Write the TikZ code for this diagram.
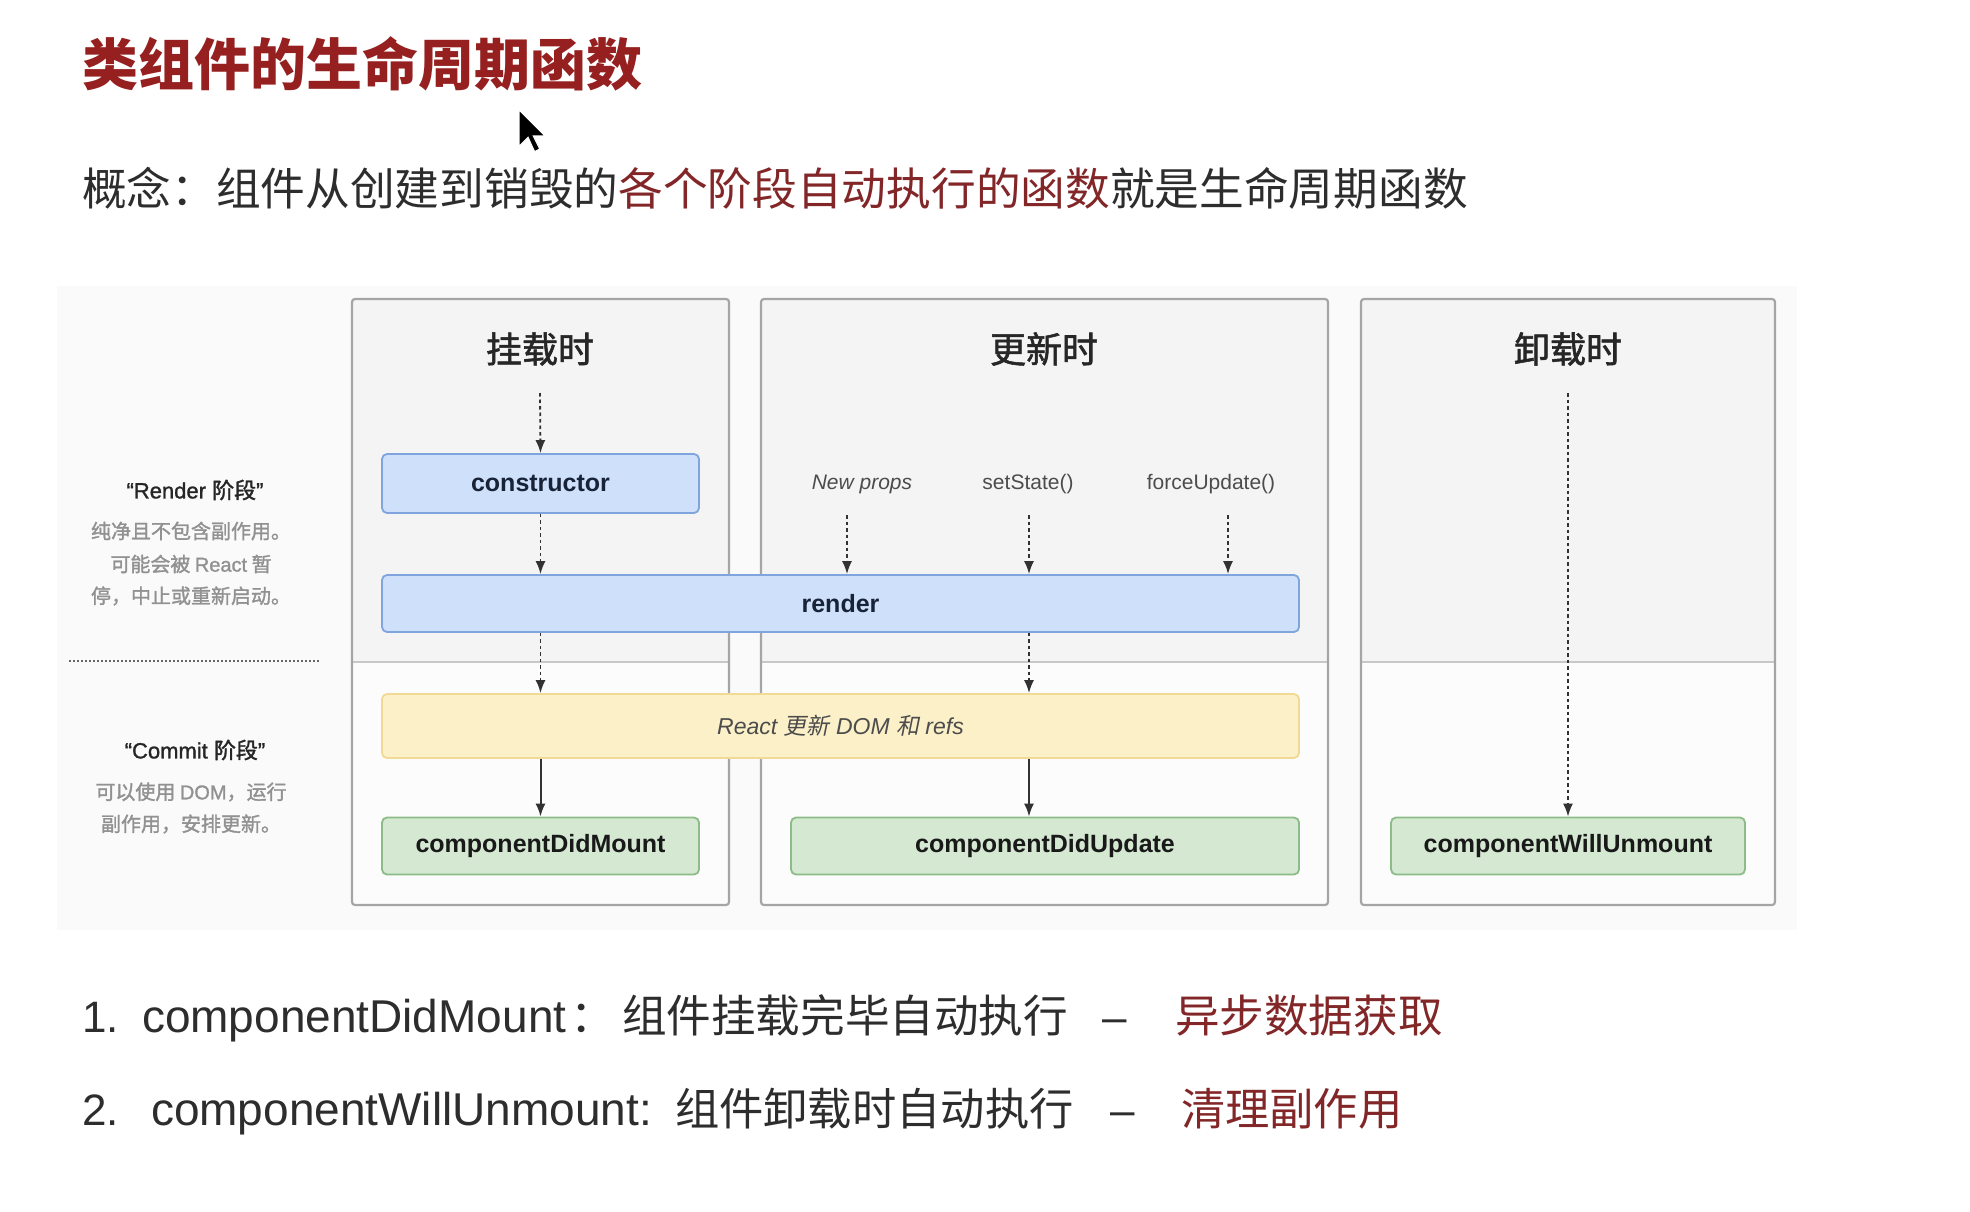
\documentclass[tikz,border=0pt]{standalone}
\usepackage{fontspec}
\setmainfont{Noto Sans CJK SC}
\newfontfamily\lat{Liberation Sans}
\newfontfamily\latmed[FakeBold=1.2]{Liberation Sans}
\newfontfamily\cjkmed[FakeBold=1.5]{Noto Sans CJK SC}
\newfontfamily\cjkit[FakeSlant=0.2]{Noto Sans CJK SC}
\usetikzlibrary{arrows.meta}
\newcommand\fsz[1]{\fontsize{#1pt}{#1pt}\selectfont}
\definecolor{titlered}{RGB}{150,32,32}
\definecolor{textred}{RGB}{130,38,40}
\definecolor{bodytext}{RGB}{45,45,45}
\definecolor{paneltint}{RGB}{250,250,250}
\definecolor{upfill}{RGB}{244,244,244}
\definecolor{lowfill}{RGB}{252,252,252}
\definecolor{colborder}{RGB}{165,165,165}
\definecolor{divider}{RGB}{200,200,200}
\definecolor{bluefill}{RGB}{206,224,250}
\definecolor{blueline}{RGB}{128,165,220}
\definecolor{yelfill}{RGB}{252,240,200}
\definecolor{yelline}{RGB}{240,218,150}
\definecolor{grnfill}{RGB}{212,232,210}
\definecolor{grnline}{RGB}{140,188,135}
\definecolor{arrowgray}{RGB}{50,50,50}
\definecolor{notegray}{RGB}{145,145,145}
\tikzset{
  txt/.style={inner sep=0pt, outer sep=0pt, anchor=base west},
  header/.style={inner sep=0pt, text=black!85, font=\cjkmed\fsz{36}},
  lifebox/.style={rounded corners=5pt, line width=1.8pt, inner sep=0pt, minimum height=57pt},
  bluebox/.style={lifebox, fill=bluefill, draw=blueline, text={rgb,255:red,25;green,35;blue,55}, font=\lat\bfseries\fsz{25}},
  yelbox/.style={lifebox, fill=yelfill, draw=yelline, text=black!70, minimum height=64pt},
  grnbox/.style={lifebox, fill=grnfill, draw=grnline, text=black!90, font=\lat\bfseries\fsz{25}},
  trig/.style={inner sep=0pt, text=black!70, font=\lat\fsz{21}},
  dotflow/.style={draw=arrowgray, line width=1.8pt, dash pattern=on 3.5pt off 3pt, -{Latex[length=13pt,width=10pt]}},
  solidflow/.style={draw=arrowgray, line width=2pt, -{Latex[length=13pt,width=10pt]}},
  phaselabel/.style={inner sep=0pt, text=black!85, font=\cjkmed\fsz{22}},
  note/.style={inner sep=0pt, text=notegray, font=\cjkmed\fsz{20}},
}
\begin{document}
\begin{tikzpicture}[x=1pt,y=-1pt]
\useasboundingbox (0,0) rectangle (1970,1212);
\fill[white] (0,0) rectangle (1970,1212);

% title and concept
\node[txt, text=titlered, font=\bfseries\fsz{56}] (title) at (82,86) {类组件的生命周期函数};
\node[txt, text=bodytext, font=\fsz{44.7}] (concept) at (82,205)
  {概念：组件从创建到销毁的\textcolor{textred}{各个阶段自动执行的函数}就是生命周期函数};

% mouse cursor
\begin{scope}[shift={(519,110)}, scale=1.3]
\filldraw[fill=black, draw=white, line width=1pt]
  (0,0) -- (0,28) -- (7,21) -- (12,32) -- (16,30) -- (11,20) -- (20,20) -- cycle;
\end{scope}

% diagram panel
\fill[paneltint] (57,286) rectangle (1797,930);

% columns
\foreach \xa/\xb in {352/729, 761/1328, 1361/1775}{
  \fill[upfill] (\xa,299) rectangle (\xb,662);
  \fill[lowfill] (\xa,662) rectangle (\xb,905);
  \draw[divider, line width=1.5pt] (\xa,662) -- (\xb,662);
  \draw[colborder, line width=2.2pt, rounded corners=3pt] (\xa,299) rectangle (\xb,905);
}

% headers
\node[header] (hmount) at (540,349) {挂载时};
\node[header] (hupdate) at (1044,349) {更新时};
\node[header] (hunmount) at (1568,349) {卸载时};

% left phase labels
\node[phaselabel] (rphase) at (195,490) {{\latmed “Render }阶段{\latmed ”}};
\node[note] (rn1) at (191,531) {纯净且不包含副作用。};
\node[note] (rn2) at (191,564) {可能会被 {\latmed React} 暂};
\node[note] (rn3) at (191,596) {停，中止或重新启动。};
\coordinate (sepL) at (69,661);
\coordinate (sepR) at (320,661);
\draw[black!60, line width=2pt, dash pattern=on 2pt off 2pt] (sepL) -- (sepR);
\node[phaselabel] (cphase) at (195,750) {{\latmed “Commit }阶段{\latmed ”}};
\node[note] (cn1) at (191,792) {可以使用 {\latmed DOM}，运行};
\node[note] (cn2) at (191,824) {副作用，安排更新。};

% lifecycle boxes
\node[bluebox, minimum width=317pt, minimum height=59pt] (constructor) at (540.5,483.5) {constructor};
\node[bluebox, minimum width=917pt] (render) at (840.5,603.5) {render};
\node[yelbox, minimum width=917pt] (reactdom) at (840.5,726)
  {\fsz{23}{\lat\itshape React }{\cjkit 更新}{\lat\itshape\ DOM }{\cjkit 和}{\lat\itshape\ refs}};
\node[grnbox, minimum width=317pt] (didmount) at (540.5,846) {componentDidMount};
\node[grnbox, minimum width=508pt] (didupdate) at (1045,846) {componentDidUpdate};
\node[grnbox, minimum width=354pt] (willunmount) at (1568,846) {componentWillUnmount};

% triggers
\node[trig, font=\lat\itshape\fsz{21}] (newprops) at (862,484) {New props};
\node[trig] (setstate) at (1028,484) {setState()};
\node[trig] (forceupdate) at (1211,484) {forceUpdate()};

% arrows: mount
\coordinate (mtop) at (540,393);
\draw[dotflow] (mtop) -- (constructor.north);
\draw[dotflow] (constructor.south) -- (constructor.south |- render.north);
\draw[dotflow] (constructor.south |- render.south) -- (constructor.south |- reactdom.north);
\draw[solidflow] (constructor.south |- reactdom.south) -- (didmount.north);

% arrows: update
\coordinate (npA) at (847,515);
\coordinate (ssA) at (1029,515);
\coordinate (fuA) at (1228,515);
\draw[dotflow] (npA) -- (npA |- render.north);
\draw[dotflow] (ssA) -- (ssA |- render.north);
\draw[dotflow] (fuA) -- (fuA |- render.north);
\draw[dotflow] (ssA |- render.south) -- (ssA |- reactdom.north);
\draw[solidflow] (ssA |- reactdom.south) -- (ssA |- didupdate.north);

% arrows: unmount
\coordinate (utop) at (1568,393);
\draw[dotflow] (utop) -- (willunmount.north);

% bottom list
\node[txt, text=bodytext, font=\lat\fsz{44}] (n1) at (82,1032) {1.};
\node[txt, text=bodytext, font=\lat\fsz{46}] (l1a) at (142,1032) {componentDidMount};
\node[txt, text=bodytext, font=\fsz{44.6}] (l1b) at (570,1032) {：};
\node[txt, text=bodytext, font=\fsz{44.6}] (l1c) at (622,1032) {组件挂载完毕自动执行};
\node[txt, text=bodytext, font=\lat\fsz{44}] (l1d) at (1102,1032) {–};
\node[txt, text=textred, font=\fsz{44.6}] (l1e) at (1175,1032) {异步数据获取};

\node[txt, text=bodytext, font=\lat\fsz{44}] (n2) at (82,1125) {2.};
\node[txt, text=bodytext, font=\lat\fsz{46}] (l2a) at (151,1125) {componentWillUnmount:};
\node[txt, text=bodytext, font=\fsz{44.3}] (l2c) at (675,1125) {组件卸载时自动执行};
\node[txt, text=bodytext, font=\lat\fsz{44}] (l2d) at (1110,1125) {–};
\node[txt, text=textred, font=\fsz{44.3}] (l2e) at (1181,1125) {清理副作用};
\end{tikzpicture}
\end{document}
